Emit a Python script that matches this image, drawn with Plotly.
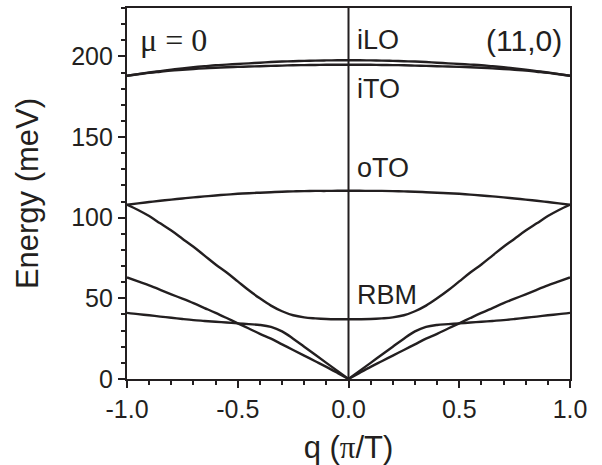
import plotly.graph_objects as go

q = [-1.0, -0.95, -0.9, -0.85, -0.8, -0.75, -0.7, -0.65, -0.6, -0.55, -0.5, -0.45, -0.4, -0.35, -0.3,
     -0.25, -0.2, -0.15, -0.1, -0.05, 0.0, 0.05, 0.1, 0.15, 0.2, 0.25, 0.3, 0.35, 0.4, 0.45, 0.5,
     0.55, 0.6, 0.65, 0.7, 0.75, 0.8, 0.85, 0.9, 0.95, 1.0]

iLO = [188, 189, 190, 190.9, 191.8, 192.6, 193.3, 193.9, 194.5, 194.9, 195.3, 195.7, 196.1, 196.5, 196.8,
       197, 197.2, 197.4, 197.5, 197.6, 197.6, 197.6, 197.5, 197.4, 197.2, 197, 196.8, 196.5, 196.1, 195.7, 195.3,
       194.9, 194.5, 193.9, 193.3, 192.6, 191.8, 190.9, 190, 189, 188]
iTO = [188, 188.9, 189.8, 190.5, 191.2, 191.7, 192.2, 192.6, 193, 193.3, 193.5, 193.7, 193.9, 194.1, 194.3,
       194.5, 194.6, 194.7, 194.8, 194.8, 194.8, 194.8, 194.8, 194.7, 194.6, 194.5, 194.3, 194.1, 193.9, 193.7, 193.5,
       193.3, 193, 192.6, 192.2, 191.7, 191.2, 190.5, 189.8, 188.9, 188]
oTO = [108, 108.9, 109.7, 110.5, 111.2, 111.9, 112.6, 113.2, 113.8, 114.3, 114.8, 115.2, 115.5, 115.8, 116.1,
       116.3, 116.5, 116.6, 116.6, 116.7, 116.7, 116.7, 116.6, 116.6, 116.5, 116.3, 116.1, 115.8, 115.5, 115.2, 114.8,
       114.3, 113.8, 113.2, 112.6, 111.9, 111.2, 110.5, 109.7, 108.9, 108]
RBM = [108, 104.8, 101, 96.5, 92, 87, 82, 76.5, 71, 66, 60.5, 55, 50, 45.5, 42,
       39.5, 38.2, 37.6, 37.2, 37.05, 37, 37.05, 37.2, 37.6, 38.2, 39.5, 42, 45.5, 50, 55, 60.5,
       66, 71, 76.5, 82, 87, 92, 96.5, 101, 104.8, 108]
TA = [63, 60.5, 58, 55.3, 52.5, 49.8, 47, 44, 41, 37.8, 34.5, 31.3, 28, 25, 21.5,
      18, 14.5, 11, 7.5, 3.8, 0, 3.8, 7.5, 11, 14.5, 18, 21.5, 25, 28, 31.3, 34.5,
      37.8, 41, 44, 47, 49.8, 52.5, 55.3, 58, 60.5, 63]
TW = [41, 40.2, 39.5, 38.7, 38, 37.2, 36.5, 36, 35.5, 35, 34.5, 34, 33.5, 32.3, 29.5,
      25, 20, 15, 10, 5, 0, 5, 10, 15, 20, 25, 29.5, 32.3, 33.5, 34, 34.5,
      35, 35.5, 36, 36.5, 37.2, 38, 38.7, 39.5, 40.2, 41]

branches = {"iLO": iLO, "iTO": iTO, "oTO": oTO, "RBM": RBM, "TA": TA, "TW": TW}

labels = ["iLO", "iTO", "oTO", "RBM"]
label_q = [0.03, 0.03, 0.03, 0.03]
label_E = [210, 180, 131, 52]

x_ticks = [-1.0, -0.5, 0.0, 0.5, 1.0]
x_ticktext = ["-1.0", "-0.5", "0.0", "0.5", "1.0"]
y_ticks = [0, 50, 100, 150, 200]

SANS = "Liberation Sans, Arial, sans-serif"
SERIF = "Liberation Serif, Times New Roman, serif"
INK = "#231f20"

i0 = q.index(0.0)
fig = go.Figure()
for name, vals in branches.items():
    # draw each branch as two halves meeting at q = 0 (keeps the cusp at the zone centre sharp)
    for xs, ys in ((q[:i0 + 1], vals[:i0 + 1]), (q[i0:], vals[i0:])):
        fig.add_trace(go.Scatter(x=xs, y=ys, mode="lines", name=name,
                                 line=dict(color=INK, width=2.4, shape="spline", smoothing=1.0),
                                 showlegend=False, hoverinfo="skip"))

# vertical line at q = 0
fig.add_vline(x=0, line=dict(color=INK, width=2))

for t, xq, ye in zip(labels, label_q, label_E):
    fig.add_annotation(x=xq, y=ye, text=t, showarrow=False, xanchor="left", yanchor="middle",
                       font=dict(family=SANS, size=27, color=INK))

fig.add_annotation(x=0.975, y=210, text="(11,0)", showarrow=False, xanchor="right", yanchor="middle",
                   font=dict(family=SANS, size=30, color=INK))
fig.add_annotation(x=-0.95, y=210, text="\u03bc = 0", showarrow=False, xanchor="left", yanchor="middle",
                   font=dict(family=SERIF, size=32, color=INK))

fig.update_layout(
    width=602, height=465,
    margin=dict(l=127, r=32, t=6, b=86),
    paper_bgcolor="white", plot_bgcolor="white",
    font=dict(family=SANS, color=INK),
)
fig.update_xaxes(
    range=[-1, 1], tickvals=x_ticks, ticktext=x_ticktext,
    ticks="outside", ticklen=7, tickwidth=2, tickcolor=INK,
    minor=dict(dtick=0.1, ticks="outside", ticklen=4, tickwidth=2, tickcolor=INK, showgrid=False),
    showline=True, linewidth=2.3, linecolor=INK, mirror=True,
    showgrid=False, zeroline=False,
    tickfont=dict(family=SANS, size=25, color=INK),
    title=dict(text="q (<span style='font-family:Liberation Serif'>\u03c0</span>/T)",
               font=dict(family=SANS, size=31, color=INK), standoff=14),
)
fig.update_yaxes(
    range=[0, 230], tickvals=y_ticks,
    ticks="outside", ticklen=7, tickwidth=2, tickcolor=INK,
    minor=dict(dtick=10, ticks="outside", ticklen=4, tickwidth=2, tickcolor=INK, showgrid=False),
    showline=True, linewidth=2.3, linecolor=INK, mirror=True,
    showgrid=False, zeroline=False,
    tickfont=dict(family=SANS, size=25, color=INK),
    title=dict(text="Energy (meV)", font=dict(family=SANS, size=31, color=INK), standoff=23),
)

fig.write_html("out.html")
